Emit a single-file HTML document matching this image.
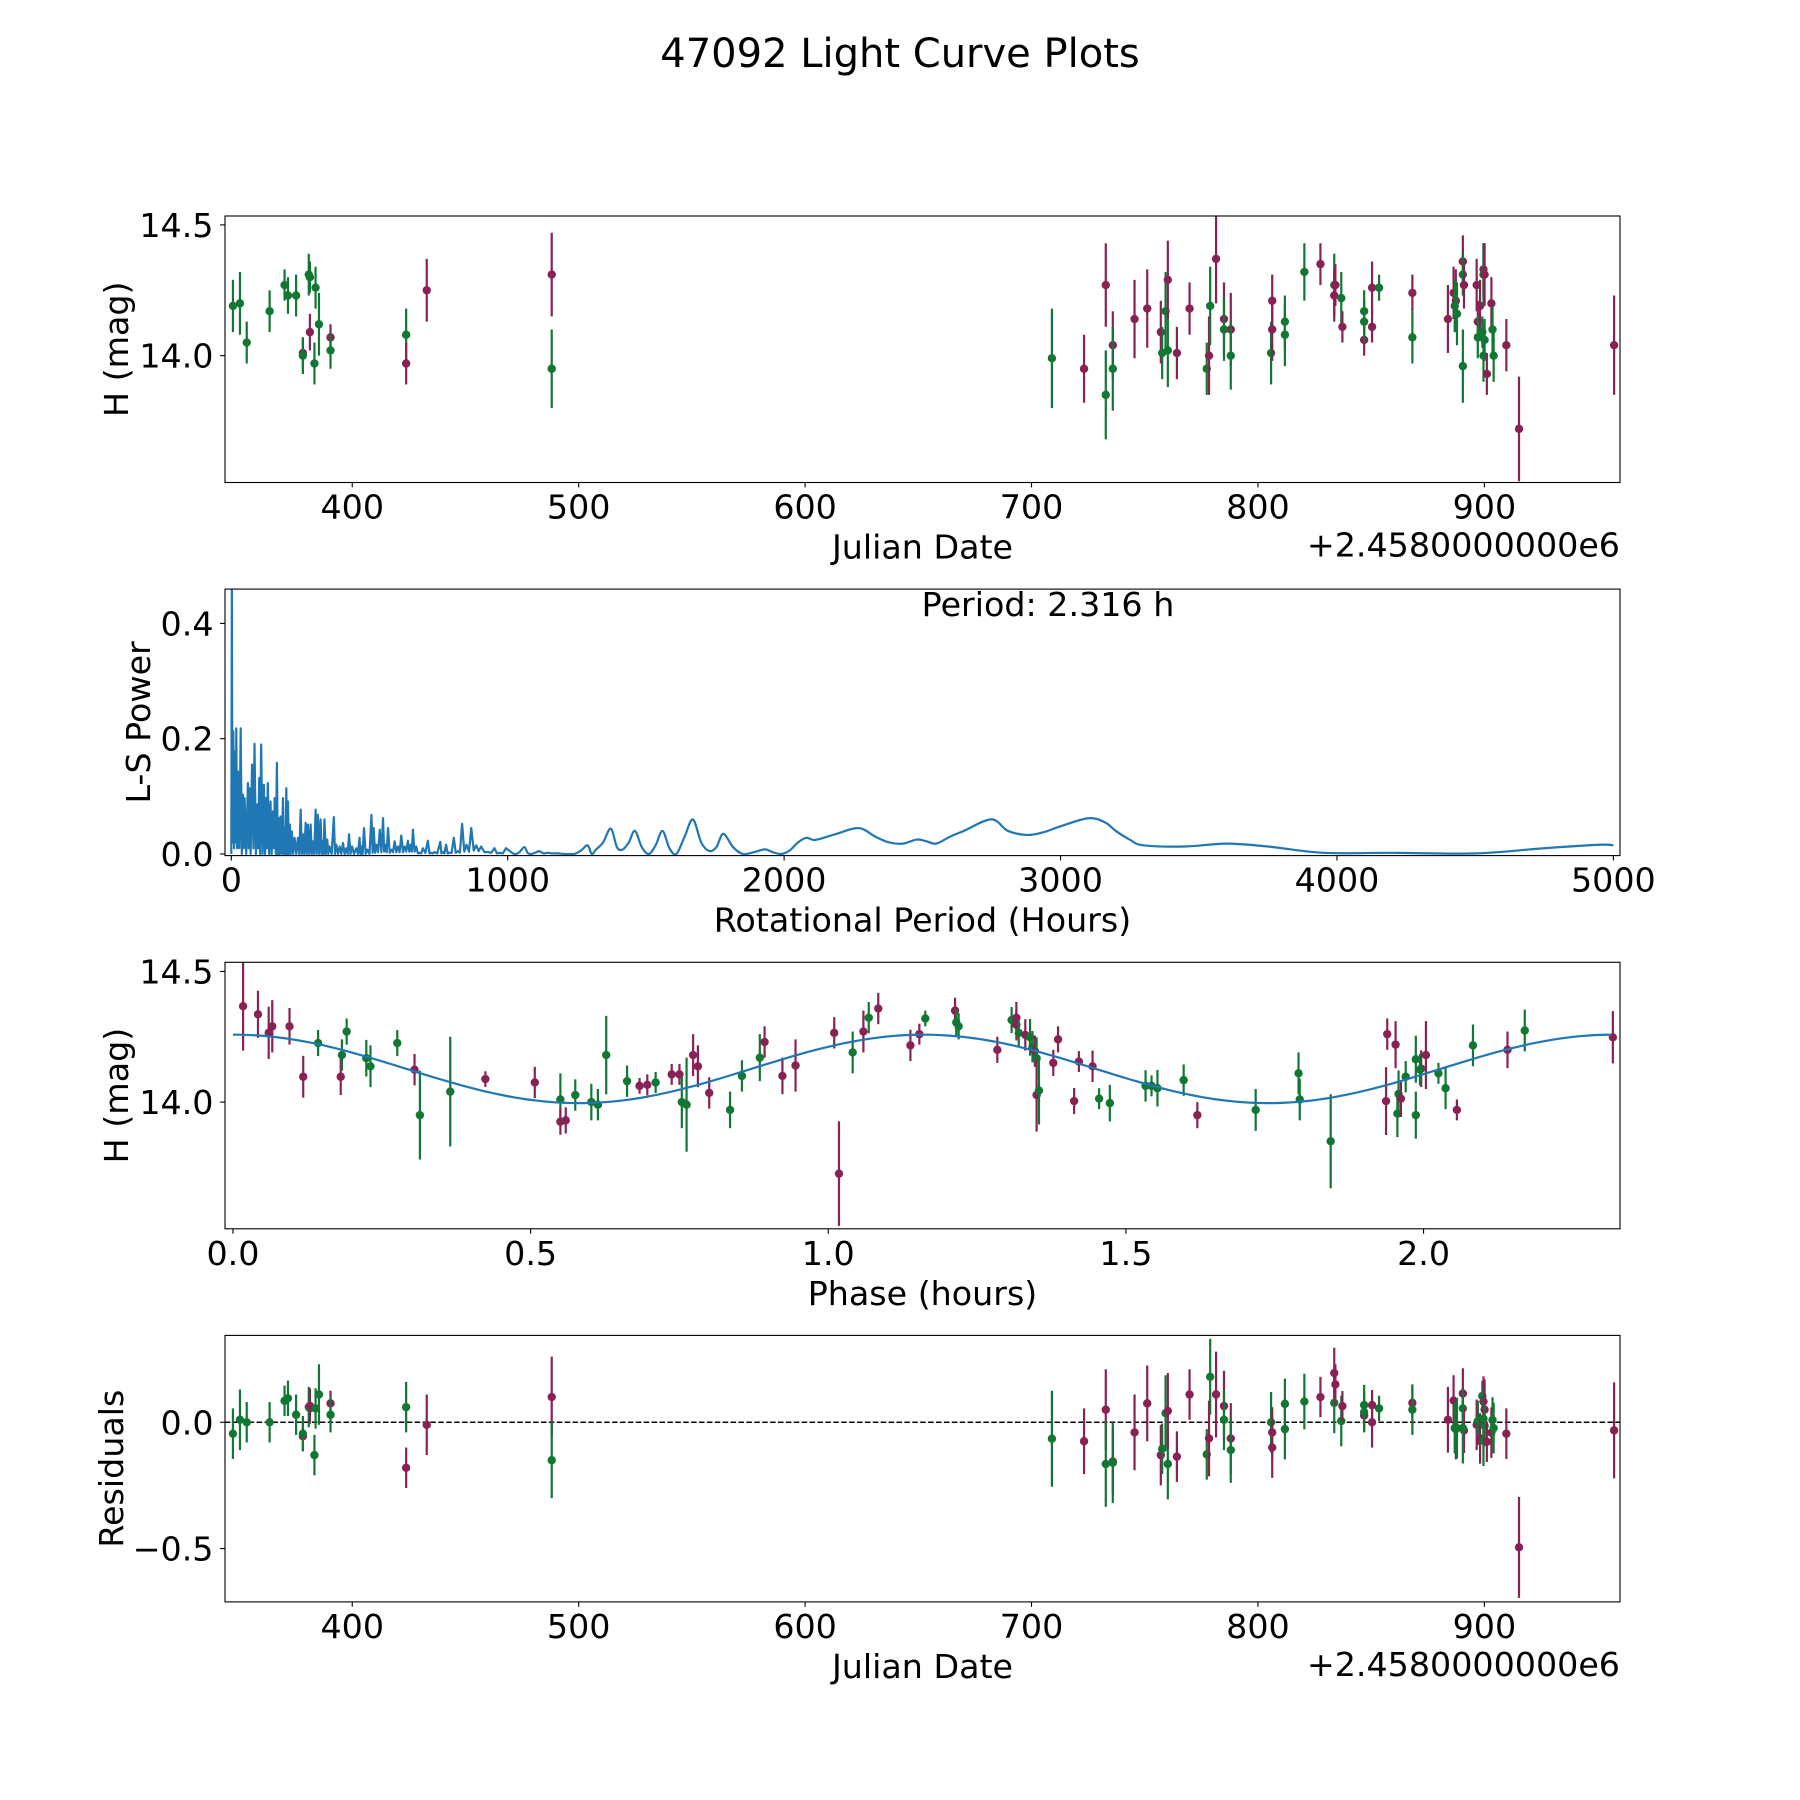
<!DOCTYPE html>
<html><head><meta charset="utf-8"><title>47092 Light Curve Plots</title>
<style>html,body{margin:0;padding:0;background:#fff}svg{display:block;font-family:"DejaVu Sans","Liberation Sans",sans-serif}</style>
</head><body>
<svg id="fig" xmlns="http://www.w3.org/2000/svg" width="1800" height="1800" viewBox="0 0 1800 1800">
<rect x="0" y="0" width="1800" height="1800" fill="#fff"/>
<text x="900" y="67" font-size="40" text-anchor="middle">47092 Light Curve Plots</text>
</svg>
<script>
// ---- Light curve data (panel 1 and residuals) ----
const jdDates = [347.3,350.4,353.4,363.5,370.1,371.6,375.2,378.2,378.2,380.8,381.3,381.3,383.3,383.8,385.3,390.4,390.4,423.8,423.8,432.9,488.1,488.1,709,723.2,732.8,732.8,735.9,735.9,745.5,751.1,757.1,757.7,759.2,760.2,760.2,764.2,769.8,777.4,778.4,778.9,781.5,785,785,788,788,805.8,806.3,806.3,811.9,811.9,820.5,827.6,833.7,833.7,834.2,836.8,837.3,846.9,846.9,846.9,850.4,850.4,853.5,868.2,868.2,883.9,886.4,887.4,886.9,887.9,890.5,890.5,891,890.5,896.6,897.1,897.1,898.1,899.1,899.6,899.6,900.1,899.6,900.1,901.1,903.1,903.6,904.1,909.7,915.3,957.3];
const jdMags = [14.19,14.20,14.05,14.17,14.27,14.23,14.23,14.01,14.00,14.31,14.30,14.09,13.97,14.26,14.12,14.07,14.02,14.08,13.97,14.25,14.31,13.95,13.99,13.95,14.27,13.85,14.04,13.95,14.14,14.18,14.09,14.01,14.17,14.02,14.29,14.01,14.18,13.95,14.00,14.19,14.37,14.14,14.10,14.10,14.00,14.01,14.21,14.10,14.13,14.08,14.32,14.35,14.27,14.23,14.27,14.22,14.11,14.17,14.06,14.13,14.11,14.26,14.26,14.24,14.07,14.14,14.24,14.21,14.19,14.16,14.36,14.31,14.27,13.96,14.27,14.13,14.07,14.19,14.09,14.33,14.31,14.31,14.00,14.06,13.93,14.20,14.10,14.00,14.04,13.72,14.04];
const jdErrs = [0.1,0.12,0.08,0.08,0.06,0.07,0.08,0.06,0.07,0.08,0.06,0.07,0.08,0.08,0.12,0.05,0.07,0.1,0.08,0.12,0.16,0.15,0.19,0.13,0.16,0.17,0.13,0.16,0.15,0.15,0.12,0.1,0.15,0.14,0.15,0.1,0.1,0.1,0.15,0.15,0.17,0.14,0.12,0.14,0.13,0.12,0.1,0.12,0.1,0.12,0.11,0.08,0.12,0.1,0.08,0.1,0.06,0.08,0.06,0.08,0.06,0.1,0.05,0.07,0.1,0.13,0.1,0.12,0.1,0.12,0.1,0.08,0.09,0.14,0.1,0.08,0.08,0.1,0.06,0.1,0.12,0.12,0.1,0.08,0.08,0.1,0.09,0.1,0.1,0.2,0.19];
const jdBands = ["g","g","g","g","g","g","g","m","g","g","g","m","g","g","g","m","g","g","m","m","m","g","g","m","m","g","m","g","m","m","m","g","g","g","m","m","m","g","m","g","m","m","g","m","g","g","m","m","g","g","g","m","g","m","m","g","m","g","m","g","m","m","g","m","g","m","m","m","g","g","m","g","m","g","m","m","g","m","g","m","g","m","g","g","m","m","g","g","m","m","m"];
const residuals = [-0.045,0.01,0.0,0.0,0.085,0.095,0.03,-0.055,-0.045,0.06,0.055,0.065,-0.13,0.055,0.11,0.075,0.03,0.06,-0.18,-0.01,0.1,-0.15,-0.065,-0.075,0.05,-0.165,-0.155,-0.16,-0.04,0.075,-0.13,-0.105,0.036,-0.165,0.045,-0.136,0.11,-0.127,-0.064,0.18,0.11,0.064,0.01,-0.064,-0.11,0.0,-0.04,-0.1,0.073,-0.027,0.082,0.1,0.077,0.195,0.15,0.005,0.064,0.068,0.027,0.04,0.068,0.0,0.055,0.077,0.05,0.01,0.086,-0.027,-0.023,-0.023,0.114,0.055,-0.032,-0.023,-0.01,-0.01,0.005,-0.064,0.104,0.082,0.014,0.05,-0.073,-0.014,-0.077,-0.041,0.009,-0.023,-0.045,-0.495,-0.032];

// ---- Periodogram data: dense short-period region ----
const lsPeriodsDense = [0,2,4,7.2,10,14,16,18,21,24, 29,34,38,42,45,48,54,60,63,66, 70,75,80,84,89,94,97,101,104,108, 113,118,122,126,129,132,137,142,146,151, 154,157,161,165,168,171,174,178,182,187, 190,193,196,199,202,205,208,212,215,219, 224,229,235,241,246,251,255,259,264,269, 273,277,282,287,291,295,300,305,309,313, 318,323,327,331,334,337,342,347,351,355, 363,371,375,380,386,392,398,404,410,416, 421,426,431,437,444,452,458,464,467,470, 475,480,486,492,500,507,511,515,520,525, 531,537,543,549,553,557,562,567,573,579, 585,591,597,603,609,615,621,627,633,639, 644,649,653,657,663,669,675,681,687,693, 702,711,717,723,729,735,745,756,760,765, 771,777,783,789,797,805,812,820,827,835, 843,851,860,868,877,886,895,904,916,928, 940,952,961,970,982,994];
const lsPowerDense = [0,0.46,0.02,0.213,0.01,0.178,0.02,0.218,0.01,0.143, 0.01,0.218,0,0.103,0.01,0.097,0,0.123,0.01,0.114, 0,0.155,0.01,0.191,0,0.086,0.01,0.132,0,0.19, 0,0.12,0,0.097,0.01,0.123,0,0.091,0,0.074, 0.01,0.097,0,0.158,0,0.062,0,0.065,0,0.097, 0,0.045,0,0.114,0,0.091,0,0.051,0,0.039, 0,0.028,0,0.028,0,0.077,0,0.034,0,0.054, 0,0.051,0,0.051,0,0.022,0,0.077,0,0.068, 0,0.06,0,0.022,0,0.06,0,0.025,0,0.013, 0,0.064,0,0.016,0,0.013,0,0.019,0,0.01, 0,0.034,0,0.013,0,0.01,0,0.028,0,0.013, 0,0.045,0,0.0075,0,0.068,0.002,0.045,0.002,0.016, 0.003,0.042,0.003,0.062,0.004,0.016,0.003,0.045,0.002,0.0075, 0.003,0.022,0.003,0.013,0.003,0.032,0.003,0.013,0.004,0.023, 0.004,0.016,0.004,0.042,0.004,0.013,0.001,0.002,0.001,0.01, 0.002,0.023,0.001,0.002,0.001,0.0035,0.001,0.021,0.001,0.0035, 0.001,0.016,0.001,0.002,0.002,0.028,0.002,0.005,0.002,0.052, 0.004,0.016,0.004,0.045,0.006,0.015,0.005,0.013,0.003,0.0035, 0.002,0.01,0.001,0.002,0.001,0.01];
// ---- Periodogram data: smooth long-period region ----
const lsPeriodsSmooth = [1024,1042,1060,1072,1084,1099,1114,1129,1144,1162, 1181,1210,1241,1265,1289,1304,1319,1345,1373,1395, 1415,1438,1460,1485,1510,1535,1560,1585,1610,1640, 1670,1700,1730,1755,1780,1815,1850,1890,1930,1960, 1990,2020,2050,2080,2100,2120,2190,2270,2330,2380, 2430,2480,2515,2550,2600,2650,2750,2810,2880,2940, 3000,3100,3160,3200,3250,3300,3450,3600,3750,3950, 4200,4500,4750,4950,5000];
const lsPowerSmooth = [0,0.003,0.012,0.002,0,0.002,0.005,0.001,0.002,0.001, 0.001,0,0,0.006,0.015,0,0.0075,0.02,0.044,0.012, 0.0075,0.02,0.04,0.012,0,0.015,0.04,0.01,0,0.03, 0.06,0.02,0.005,0.012,0.035,0.012,0,0.003,0.008,0.003, 0,0.006,0.02,0.028,0.025,0.025,0.035,0.045,0.03,0.02, 0.018,0.025,0.022,0.018,0.03,0.04,0.06,0.04,0.033,0.038, 0.048,0.062,0.055,0.04,0.025,0.015,0.013,0.018,0.013,0.002, 0.002,0.001,0.01,0.016,0.015];

// ---- Phase-folded data ----
const phaseVals = [0.017,0.042,0.06,0.066,0.095,0.118,0.143,0.181,0.183,0.191,0.224,0.231,0.276,0.305,0.314,0.365,0.424,0.507,0.55,0.55,0.559,0.575,0.602,0.613,0.627,0.662,0.683,0.696,0.71,0.737,0.75,0.754,0.762,0.773,0.781,0.8,0.835,0.855,0.885,0.893,0.923,0.945,1.01,1.018,1.041,1.059,1.068,1.084,1.138,1.153,1.163,1.213,1.215,1.219,1.284,1.308,1.316,1.316,1.32,1.331,1.339,1.343,1.347,1.35,1.35,1.354,1.378,1.386,1.413,1.421,1.444,1.455,1.473,1.533,1.543,1.553,1.597,1.62,1.718,1.79,1.792,1.844,1.937,1.939,1.953,1.956,1.958,1.962,1.97,1.987,1.987,1.996,2.004,1.994,2.025,2.037,2.056,2.083,2.141,2.17,2.318];
const phaseMags = [14.367,14.336,14.265,14.29,14.29,14.097,14.226,14.097,14.18,14.27,14.168,14.137,14.226,14.124,13.95,14.04,14.088,14.075,14.01,13.925,13.93,14.027,14.0,13.99,14.18,14.08,14.062,14.066,14.075,14.106,14.106,14.0,13.99,14.18,14.137,14.035,13.97,14.1,14.17,14.23,14.1,14.14,14.265,13.726,14.19,14.27,14.323,14.358,14.217,14.26,14.32,14.35,14.305,14.29,14.2,14.314,14.323,14.296,14.265,14.257,14.248,14.212,14.195,14.168,14.027,14.044,14.15,14.24,14.004,14.155,14.137,14.013,13.996,14.062,14.062,14.053,14.084,13.95,13.97,14.11,14.01,13.85,14.004,14.26,14.22,13.956,14.031,14.013,14.097,14.164,13.95,14.128,14.18,14.124,14.11,14.053,13.97,14.217,14.2,14.274,14.248];
const phaseErrs = [0.17,0.09,0.1,0.1,0.07,0.08,0.05,0.07,0.06,0.05,0.07,0.08,0.05,0.06,0.17,0.21,0.03,0.06,0.1,0.05,0.05,0.06,0.07,0.06,0.15,0.06,0.03,0.04,0.04,0.04,0.04,0.1,0.18,0.08,0.08,0.06,0.07,0.06,0.09,0.06,0.07,0.1,0.06,0.2,0.08,0.08,0.06,0.06,0.06,0.04,0.03,0.05,0.05,0.05,0.05,0.05,0.06,0.06,0.05,0.06,0.07,0.06,0.06,0.08,0.14,0.13,0.05,0.05,0.05,0.04,0.06,0.04,0.07,0.06,0.04,0.07,0.06,0.05,0.08,0.08,0.08,0.18,0.13,0.06,0.09,0.09,0.09,0.07,0.06,0.09,0.09,0.07,0.13,0.06,0.04,0.08,0.04,0.08,0.07,0.08,0.1];
const phaseBands = ["m","m","m","m","m","m","g","m","g","g","g","g","g","m","g","g","m","m","g","m","m","g","g","g","g","g","m","m","g","m","m","g","g","m","m","m","g","g","g","m","m","m","m","m","g","m","g","m","m","m","g","m","g","g","m","g","m","m","g","m","g","g","m","g","m","g","m","m","m","m","m","g","g","g","g","g","g","m","g","g","g","g","m","m","m","g","g","m","g","g","g","m","m","g","g","g","m","g","m","g","m"];
// fitted model parameters: mean, amplitude, half-period (h), peak phase (h)
const modelParams = [14.127, 0.131, 1.158, 1.16];

const NS = "http://www.w3.org/2000/svg";
const svg = document.getElementById('fig');
const COL = {g:"#117733", m:"#882255"};
const FS = 33.3;
function mk(tag, attrs, parent){const e=document.createElementNS(NS,tag);for(const k in attrs)e.setAttribute(k,attrs[k]);(parent||svg).appendChild(e);return e;}
function scale(d0,d1,r0,r1){return v=>r0+(v-d0)*(r1-r0)/(d1-d0);}

const L=225,R=1620,H=266.5;
const tops=[216,589.1,962.3,1335.4];

function axes(i, xd, yd, xticks, yticks, xlab, ylab, ylabX, clipId){
  const top=tops[i], bot=top+H;
  const g=mk('g',{});
  
  
  const sx=scale(xd[0],xd[1],L,R), sy=scale(yd[0],yd[1],bot,top);
  const cp=mk('clipPath',{id:clipId},g); mk('rect',{x:L,y:top,width:R-L,height:H},cp);
  const plot=mk('g',{'clip-path':'url(#'+clipId+')'},g);
  
  
  xticks.forEach(t=>{const x=sx(t[0]);
    mk('line',{x1:x,x2:x,y1:bot,y2:bot+4.9,stroke:'#000','stroke-width':1.1},g);
    const tx=mk('text',{x:x,y:bot+36,'font-size':FS,'text-anchor':'middle'},g);tx.textContent=t[1];
    
    });
  yticks.forEach(t=>{const y=sy(t[0]);
    mk('line',{x1:L-4.9,x2:L,y1:y,y2:y,stroke:'#000','stroke-width':1.1},g);
    const tx=mk('text',{x:L-11.5,y:y+12,'font-size':FS,'text-anchor':'end'},g);tx.textContent=t[1];
    
    });
  const xl=mk('text',{x:(L+R)/2,y:bot+76,'font-size':FS,'text-anchor':'middle'},g);xl.textContent=xlab;
  
  
  const cy=top+H/2;
  const yl=mk('text',{x:ylabX,y:cy,'font-size':FS,'text-anchor':'middle',transform:'rotate(-90 '+ylabX+' '+cy+')'},g);yl.textContent=ylab;
  
  
  return {g,plot,sx,sy,top,bot};
}
function frame(a){const f=mk('rect',{x:L,y:a.top,width:R-L,height:H,fill:'none',stroke:'#000','stroke-width':1.1},a.g);
  
  }
function errPoints(a, xs, ys, es, bands, prefix){
  xs.forEach((xv,k)=>{const x=a.sx(xv), y=a.sy(ys[k]), c=COL[bands[k]];
    const ln=mk('line',{x1:x,x2:x,y1:a.sy(ys[k]-es[k]),y2:a.sy(ys[k]+es[k]),stroke:c,'stroke-width':2.2},a.plot);
    
    
    const dot=mk('circle',{cx:x,cy:y,r:4.2,fill:c},a.plot);
    
    });
}
const jdTicks=[[400,'400'],[500,'500'],[600,'600'],[700,'700'],[800,'800'],[900,'900']];

// Panel 1
const a1=axes(0,[343.8,959.9],[13.515,14.534],jdTicks,[[14.0,'14.0'],[14.5,'14.5']],'Julian Date','H (mag)',128,'c1');
errPoints(a1,jdDates,jdMags,jdErrs,jdBands,'magnitude');
frame(a1);
const off1=mk('text',{x:R,y:a1.bot+74,'font-size':FS,'text-anchor':'end'},a1.g);off1.textContent='+2.4580000000e6';



// Panel 2
const a2=axes(1,[-22.8,5024],[-0.0028,0.4595],[[0,'0'],[1000,'1000'],[2000,'2000'],[3000,'3000'],[4000,'4000'],[5000,'5000']],[[0,'0.0'],[0.2,'0.2'],[0.4,'0.4']],'Rotational Period (Hours)','L-S Power',150,'c2');
const dpts=lsPeriodsDense.map((p,k)=>[a2.sx(p),a2.sy(lsPowerDense[k])]);
const spts=lsPeriodsSmooth.map((p,k)=>[a2.sx(p),a2.sy(lsPowerSmooth[k])]);
let d='M'+dpts.map(p=>p[0].toFixed(2)+','+p[1].toFixed(2)).join(' L');
const all=[dpts[dpts.length-1]].concat(spts);
for(let k=0;k<all.length-1;k++){
  const p0=all[Math.max(0,k-1)],p1=all[k],p2=all[k+1],p3=all[Math.min(all.length-1,k+2)];
  const c1=[p1[0]+(p2[0]-p0[0])/6,p1[1]+(p2[1]-p0[1])/6], c2=[p2[0]-(p3[0]-p1[0])/6,p2[1]-(p3[1]-p1[1])/6];
  d+=' C'+c1[0].toFixed(2)+','+c1[1].toFixed(2)+' '+c2[0].toFixed(2)+','+c2[1].toFixed(2)+' '+p2[0].toFixed(2)+','+p2[1].toFixed(2);
}
const pl=mk('path',{d:d,fill:'none',stroke:'#1f77b4','stroke-width':2.2,'stroke-linejoin':'round'},a2.plot);


frame(a2);
const pt=mk('text',{x:1048,y:616,'font-size':FS,'text-anchor':'middle'},a2.g);pt.textContent='Period: 2.316 h';



// Panel 3
const a3=axes(2,[-0.0134,2.330],[13.515,14.535],[[0,'0.0'],[0.5,'0.5'],[1.0,'1.0'],[1.5,'1.5'],[2.0,'2.0']],[[14.0,'14.0'],[14.5,'14.5']],'Phase (hours)','H (mag)',128,'c3');
errPoints(a3,phaseVals,phaseMags,phaseErrs,phaseBands,'phase');
let mp=[];for(let k=0;k<=240;k++){const x=2.316*k/240;const y=modelParams[0]+modelParams[1]*Math.cos(2*Math.PI*(x-modelParams[3])/modelParams[2]);mp.push(a3.sx(x).toFixed(2)+','+a3.sy(y).toFixed(2));}
const ml=mk('polyline',{points:mp.join(' '),fill:'none',stroke:'#1f77b4','stroke-width':2.2},a3.plot);


frame(a3);

// Panel 4
const a4=axes(3,[343.8,959.9],[-0.711,0.344],jdTicks,[[0,'0.0'],[-0.5,'\u22120.5']],'Julian Date','Residuals',123,'c4');
const zl=mk('line',{x1:L,x2:R,y1:a4.sy(0),y2:a4.sy(0),stroke:'#000','stroke-width':1.5,'stroke-dasharray':'5.5,2.4'},a4.plot);


errPoints(a4,jdDates,residuals,jdErrs,jdBands,'residual');
frame(a4);
const off4=mk('text',{x:R,y:a4.bot+74,'font-size':FS,'text-anchor':'end'},a4.g);off4.textContent='+2.4580000000e6';


</script>
</body></html>
